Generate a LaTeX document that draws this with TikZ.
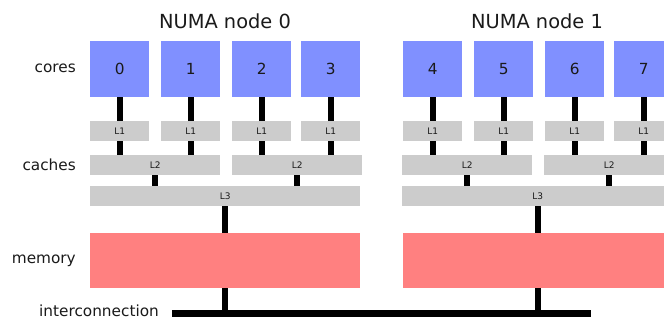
\documentclass[tikz,border=0pt]{standalone}
\usepackage{fontspec}
\setmainfont{DejaVu Sans}
\definecolor{coreblue}{HTML}{8090FF}
\definecolor{cachegray}{HTML}{CCCCCC}
\definecolor{memred}{HTML}{FF8080}
\definecolor{ink}{HTML}{1A1A1A}
\begin{document}
\begin{tikzpicture}[x=1pt,y=-1pt,
  corebox/.style={fill=coreblue, minimum width=59pt, minimum height=56pt, inner sep=0pt,
    anchor=north west, text=ink, font=\fontsize{15.3}{18}\selectfont},
  cachebox/.style={fill=cachegray, minimum height=20pt, inner sep=0pt,
    anchor=north west, text=ink, font=\fontsize{9}{11}\selectfont},
  membox/.style={fill=memred, minimum width=270pt, minimum height=55pt, inner sep=0pt,
    anchor=north west},
  link/.style={line width=6pt},
  bus/.style={line width=6.5pt},
  rowlabel/.style={anchor=base east, inner sep=0pt, text=ink, font=\fontsize{15.3}{18}\selectfont},
  numatitle/.style={anchor=base, inner sep=0pt, text=ink, font=\fontsize{19.4}{23}\selectfont}]
\useasboundingbox (0,0) rectangle (664,320);
\clip (0,0) rectangle (664,320);

% row labels
\node[rowlabel] (lcores)  at (76,73)  {cores};
\node[rowlabel] (lcaches) at (76,171) {caches};
\node[rowlabel] (lmemory) at (76,264) {memory};
\node[rowlabel] (linter)  at (159,316.5) {interconnection};

% titles
\node[numatitle] (t0) at (225,29) {NUMA node 0};
\node[numatitle] (t1) at (537,29) {NUMA node 1};

% cores and L1 caches
\foreach \i/\x in {0/90,1/161,2/232,3/301,4/403,5/474,6/545,7/614} {
  \node[corebox] (c\i) at (\x,41) {\i};
  \node[cachebox, minimum width=59pt] (a\i) at (\x,121) {L1};
}

% L2 caches
\foreach \j/\x in {0/90,1/232,2/402,3/544}
  \node[cachebox, minimum width=130pt] (b\j) at (\x,155) {L2};

% L3 caches
\node[cachebox, minimum width=270pt] (d0) at (90,186) {L3};
\node[cachebox, minimum width=271pt] (d1) at (402,186) {L3};

% memory
\node[membox] (m0) at (90,233) {};
\node[membox] (m1) at (403,233) {};

% interconnection bus
\coordinate (busL) at (172,313.5);
\coordinate (busR) at (591,313.5);
\draw[bus] (busL) -- (busR);

% core -> L1 -> L2
\foreach \i/\j in {0/0,1/0,2/1,3/1,4/2,5/2,6/3,7/3} {
  \draw[link] (c\i.south) -- (a\i.north);
  \draw[link] (a\i.south) -- (a\i.south |- b\j.north);
}

% L2 -> L3
\foreach \j/\k in {0/0,1/0,2/1,3/1}
  \draw[link] (b\j.south) -- (b\j.south |- d\k.north);

% L3 -> memory -> bus
\foreach \k in {0,1} {
  \draw[link] (d\k.south) -- (d\k.south |- m\k.north);
  \draw[link] (m\k.south) -- (m\k.south |- busL);
}
\end{tikzpicture}
\end{document}
